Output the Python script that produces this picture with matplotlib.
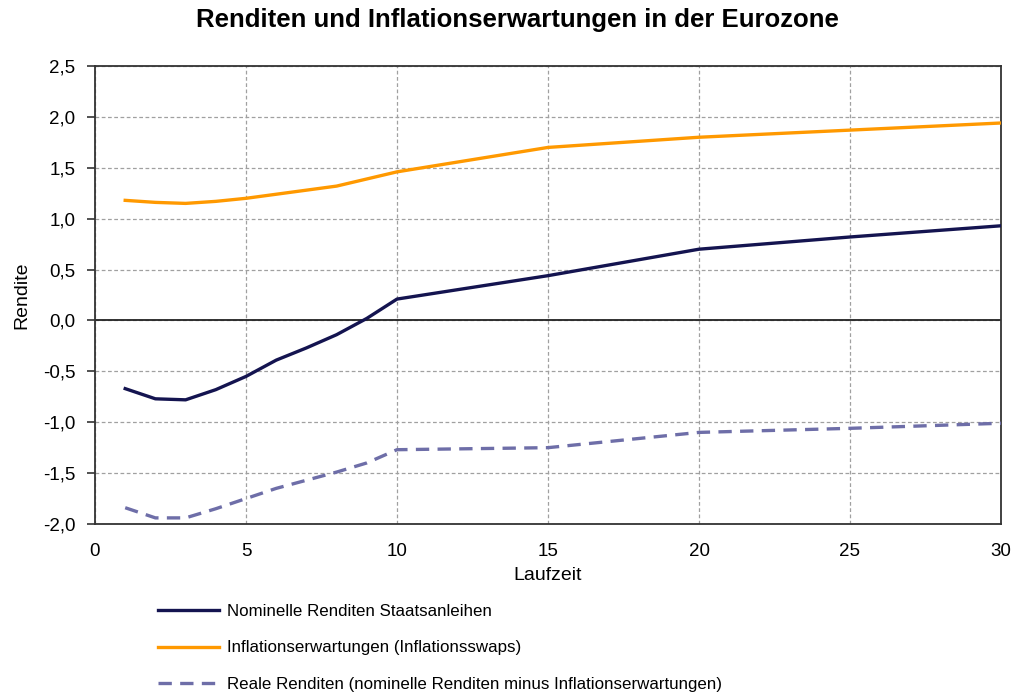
import matplotlib
matplotlib.use("Agg")
import matplotlib.pyplot as plt
from matplotlib.ticker import FuncFormatter

plt.rcParams['font.family'] = ['Liberation Sans', 'DejaVu Sans']

laufzeit = [1, 2, 3, 4, 5, 6, 7, 8, 9, 10, 15, 20, 25, 30]
nominal = [-0.67, -0.77, -0.78, -0.68, -0.55, -0.39, -0.27, -0.14, 0.02, 0.21, 0.44, 0.70, 0.82, 0.93]
inflation = [1.18, 1.16, 1.15, 1.17, 1.20, 1.24, 1.28, 1.32, 1.39, 1.46, 1.70, 1.80, 1.87, 1.94]
real = [-1.84, -1.94, -1.94, -1.85, -1.75, -1.65, -1.57, -1.49, -1.40, -1.27, -1.25, -1.10, -1.06, -1.01]

labels = ["Nominelle Renditen Staatsanleihen",
          "Inflationserwartungen (Inflationsswaps)",
          "Reale Renditen (nominelle Renditen minus Inflationserwartungen)"]
title = "Renditen und Inflationserwartungen in der Eurozone"
xticks = [0, 5, 10, 15, 20, 25, 30]
yticks = [-2.0, -1.5, -1.0, -0.5, 0.0, 0.5, 1.0, 1.5, 2.0, 2.5]

fig = plt.figure(figsize=(10.18, 6.94), dpi=100)
ax = fig.add_axes([95/1018, 1-524/694, (1001-95)/1018, (524-66)/694])

ax.set_xlim(0, 30)
ax.set_ylim(-2.0, 2.5)
ax.set_xticks(xticks)
ax.set_yticks(yticks)
ax.yaxis.set_major_formatter(FuncFormatter(lambda v, p: f"{v:.1f}".replace(".", ",")))
ax.grid(True, color="#a0a0a0", linestyle=(0, (3, 2)), linewidth=0.9)
ax.set_axisbelow(True)
ax.axhline(0, color="#222222", linewidth=1.3, zorder=2)

l1, = ax.plot(laufzeit, nominal, color="#141450", linewidth=2.4, zorder=3)
l2, = ax.plot(laufzeit, inflation, color="#FF9900", linewidth=2.4, zorder=3)
l3, = ax.plot(laufzeit, real, color="#6E6EA8", linewidth=2.4, linestyle=(0, (4, 2.5)), zorder=3)

for s in ax.spines.values():
    s.set_color("#333333")
    s.set_linewidth(1.3)

ax.tick_params(axis="y", direction="out", length=6, width=1.2, color="#333333",
               labelsize=13.5, pad=8)
ax.tick_params(axis="x", length=0, labelsize=13.5, pad=14)

ax.set_xlabel("Laufzeit", fontsize=14, labelpad=5)
ax.set_ylabel("Rendite", fontsize=14, labelpad=9)

fig.text(517/1018, 1-20/694, title, ha="center", va="center",
         fontsize=18.5, fontweight="bold")

fig.legend([l1, l2, l3], labels, loc="upper left",
           bbox_to_anchor=(143/1018, 1-589/694), frameon=False,
           fontsize=12.2, handlelength=3.6, handletextpad=0.45,
           labelspacing=1.25)

fig.savefig("out.png", dpi=100)
